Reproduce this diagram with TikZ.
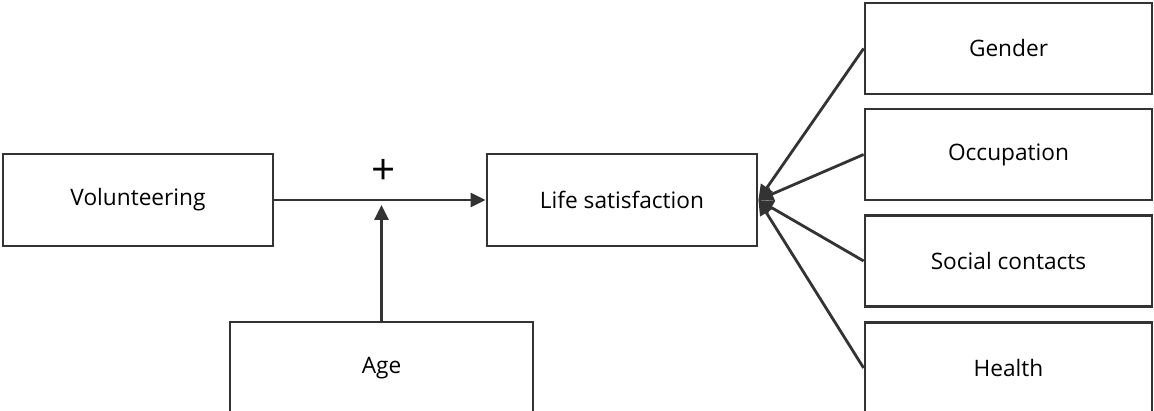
\documentclass[tikz,border=0pt]{standalone}
\usepackage{fontspec}
\setmainfont{Open Sans}
\usetikzlibrary{arrows.meta}
\definecolor{linegray}{HTML}{333333}
\begin{document}
\begin{tikzpicture}[x=0.02cm, y=-0.02cm,
    box/.style={draw=linegray, line width=1.6pt, minimum width=5.4cm, minimum height=1.84cm,
        inner sep=0pt, font=\fontsize{12.9}{14}\selectfont},
    factor/.style={box, minimum width=5.74cm, minimum height=1.82cm},
    link/.style={linegray, line width=1.6pt, -{Triangle[length=0.3cm, width=0.28cm]}}]
    \useasboundingbox (0,0) rectangle (1154,411);
    \clip (0,0) rectangle (1154,411);

    % Model
    \node[box] (vol) at (138,200) {Volunteering};
    \node[box] (life) at (622,200) {Life satisfaction};
    \node[box, minimum width=6.06cm] (age) at (381.5,368) {Age};
    \node[font=\fontsize{24}{26}\selectfont] (plus) at (384,172) {+};

    % Controls
    \node[factor] (gender) at (1008.5,48.5) {Gender};
    \node[factor] (occup) at (1008.5,154.5) {Occupation};
    \node[factor] (social) at (1008.5,261) {Social contacts};
    \node[factor] (health) at (1008.5,368) {Health};

    % Arrows
    \coordinate (agetip) at (381.5,205);
    \draw[link] (vol) -- (life);
    \draw[link] (age) -- (agetip);
    \foreach \c in {gender,occup,social,health}
        \draw[link] (\c.west) -- (life.east);
\end{tikzpicture}
\end{document}
